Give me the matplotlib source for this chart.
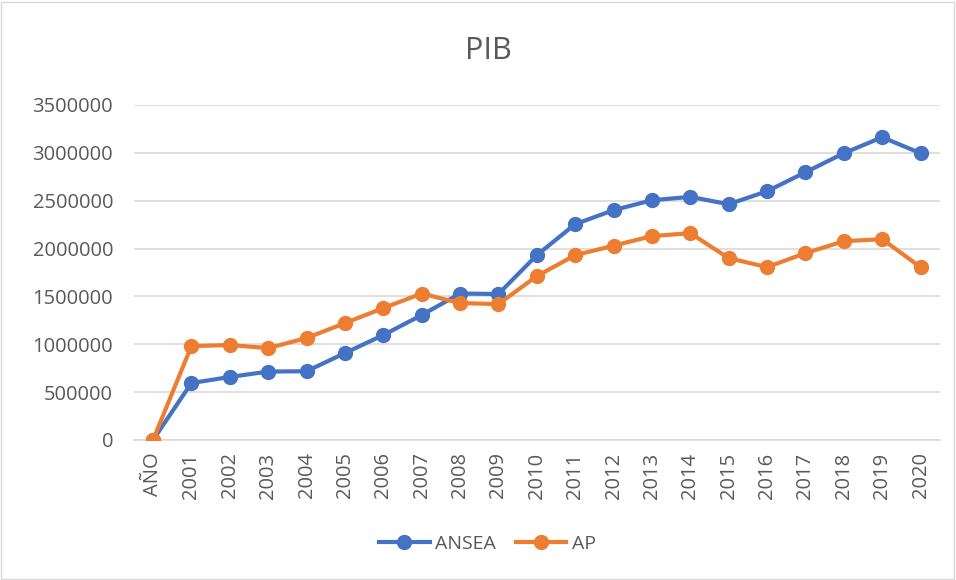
import matplotlib.pyplot as plt
import matplotlib.patches as mpatches
import numpy as np

plt.rcParams['font.family'] = ['Open Sans', 'DejaVu Sans']

# Categories and series
categories = ['AÑO'] + [str(y) for y in range(2001, 2021)]
ansea = [0, 595000, 658000, 715000, 718000, 908000, 1096000, 1305000, 1530000, 1525000,
         1931000, 2255000, 2401000, 2505000, 2540000, 2463000, 2599000, 2797000, 2996000,
         3163000, 2996000]
ap = [0, 981000, 992000, 960000, 1065000, 1221000, 1378000, 1530000, 1430000, 1420000,
      1712000, 1931000, 2030000, 2130000, 2161000, 1900000, 1806000, 1952000, 2077000,
      2098000, 1806000]

blue = '#4472C4'
orange = '#ED7D31'
text_color = '#595959'

fig = plt.figure(figsize=(9.56, 5.8), dpi=100)
ax = fig.add_axes([0.140, 0.2414, 0.843, 0.5776])

x = np.arange(len(categories))
ax.plot(x, ansea, color=blue, lw=3, marker='o', markersize=10, label='ANSEA', zorder=3)
ax.plot(x, ap, color=orange, lw=3, marker='o', markersize=10, label='AP', zorder=4)

ax.set_xlim(-0.5, len(categories) - 0.5)
ax.set_ylim(0, 3500000)
ax.set_yticks(np.arange(0, 3500001, 500000))
ax.set_yticklabels([str(v) for v in range(0, 3500001, 500000)])
ax.set_xticks(x)
ax.set_xticklabels(categories, rotation=90)
ax.tick_params(axis='both', length=0, colors=text_color, labelsize=14.5)
ax.tick_params(axis='y', pad=15)
ax.tick_params(axis='x', pad=9)

ax.grid(axis='y', color='#D9D9D9', lw=1.2)
ax.set_axisbelow(True)
for s in ['top', 'right', 'left']:
    ax.spines[s].set_visible(False)
ax.spines['bottom'].set_color('#D9D9D9')
ax.spines['bottom'].set_linewidth(1.2)

fig.text(0.511, 0.912, 'PIB', ha='center', va='center', fontsize=22, color=text_color)

leg = fig.legend(loc='center', bbox_to_anchor=(0.51, 0.062), ncol=2, frameon=False,
                 fontsize=14, handlelength=2.6, columnspacing=1.0, handletextpad=0.3)
for t in leg.get_texts():
    t.set_color(text_color)

fig.add_artist(mpatches.Rectangle((0.001, 0.002), 0.997, 0.995, transform=fig.transFigure,
                                  fill=False, edgecolor='#D9D9D9', lw=1))

fig.savefig('out.png', dpi=100)
